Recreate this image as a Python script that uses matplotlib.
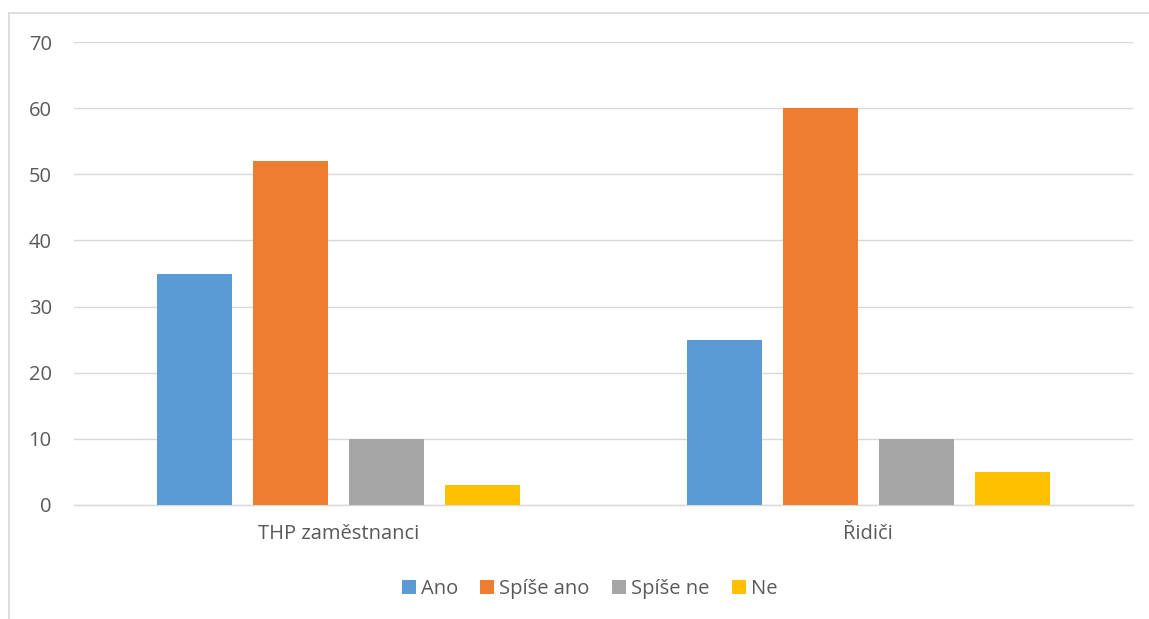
import numpy as np
import matplotlib.pyplot as plt
from matplotlib.lines import Line2D

plt.rcParams['font.family'] = ['Open Sans', 'DejaVu Sans']

categories = ['THP zaměstnanci', 'Řidiči']
series = ['Ano', 'Spíše ano', 'Spíše ne', 'Ne']
values = {
    'Ano': [35, 25],
    'Spíše ano': [52, 60],
    'Spíše ne': [10, 10],
    'Ne': [3, 5],
}
colors = ['#5B9BD5', '#ED7D31', '#A5A5A5', '#FFC000']
yticks = [0, 10, 20, 30, 40, 50, 60, 70]

fig = plt.figure(figsize=(11.49, 6.19), dpi=100)
ax = fig.add_axes([0.0644, 0.1842, 0.9217, 0.7479])

x = np.arange(len(categories))
width = 0.1416
step = 0.1813
for i, name in enumerate(series):
    offset = (i - 1.5) * step
    ax.bar(x + offset, values[name], width, color=colors[i], label=name, zorder=3)

ax.set_xlim(-0.5, 1.5)
ax.set_ylim(0, 70)
ax.set_yticks(yticks)
ax.set_xticks(x)
ax.set_xticklabels(categories)
ax.tick_params(axis='both', length=0, labelsize=14.5, colors='#595959')
ax.tick_params(axis='y', pad=16)
ax.tick_params(axis='x', pad=14)
ax.grid(axis='y', color='#d9d9d9', linewidth=1, zorder=0)
for s in ['top', 'right', 'left']:
    ax.spines[s].set_visible(False)
ax.spines['bottom'].set_color('#d9d9d9')
ax.spines['bottom'].set_linewidth(1)

leg = fig.legend(loc='center', bbox_to_anchor=(0.513, 0.048), ncol=4, frameon=False,
                 fontsize=14.5, handlelength=0.7, handleheight=0.7, handletextpad=0.25,
                 columnspacing=1.1)
for t in leg.get_texts():
    t.set_color('#595959')

# chart frame (top and left edges visible)
fig.add_artist(Line2D([9 / 1149, 1.0], [1 - 13 / 619] * 2, color='#d9d9d9', linewidth=1.2,
                      transform=fig.transFigure))
fig.add_artist(Line2D([9 / 1149] * 2, [0.0, 1 - 13 / 619], color='#d9d9d9', linewidth=1.2,
                      transform=fig.transFigure))

fig.savefig('out.png', dpi=100)
